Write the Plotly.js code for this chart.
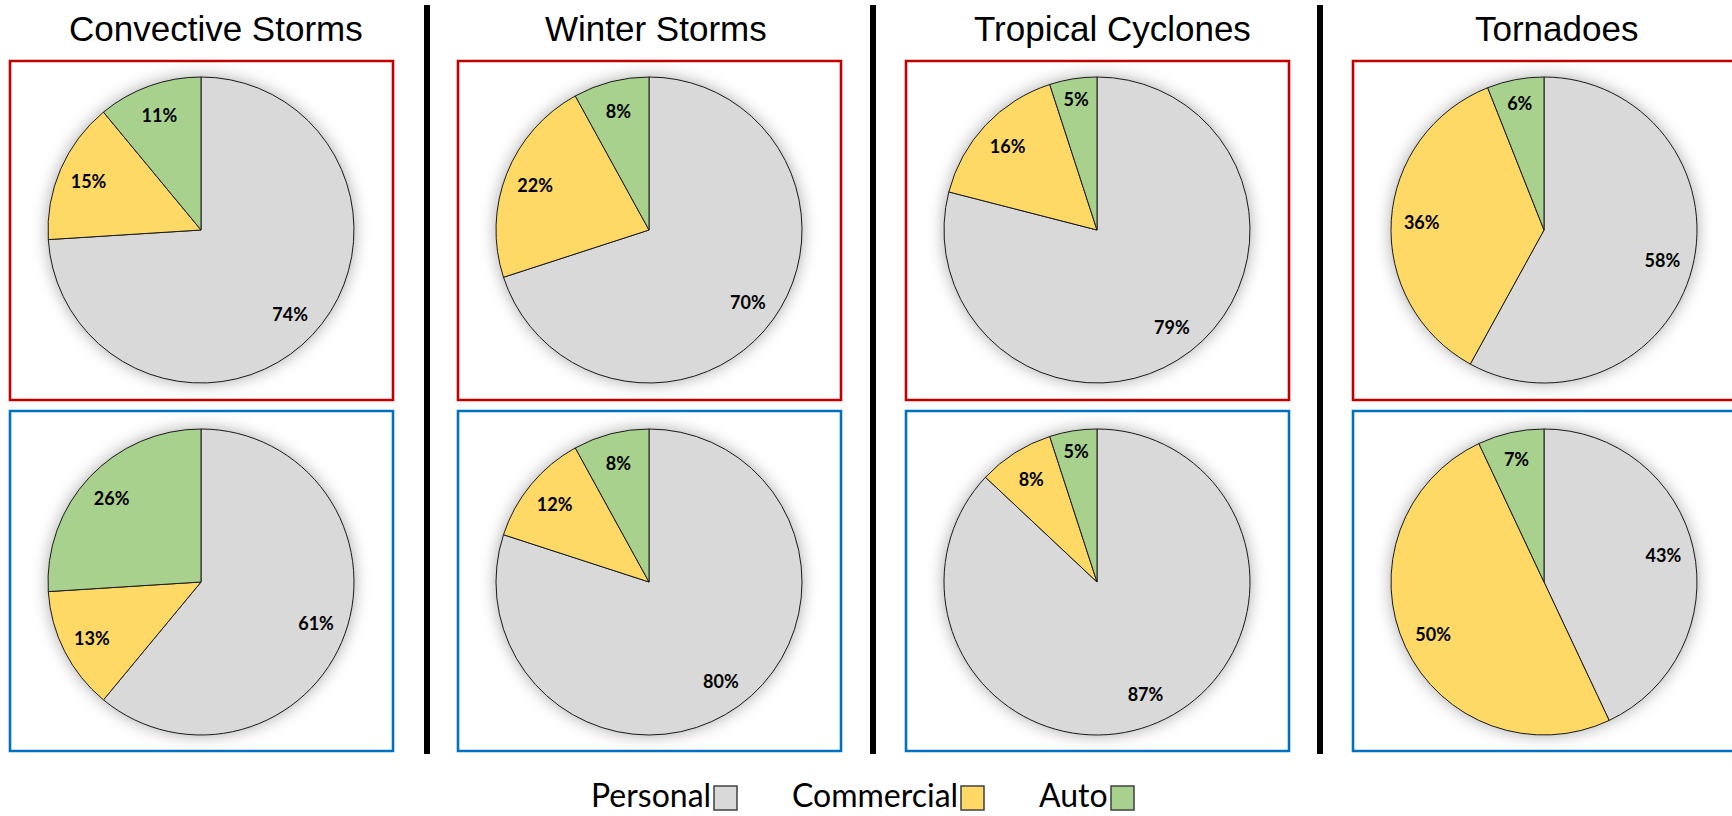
<!DOCTYPE html>
<html>
<head>
<meta charset="utf-8">
<script src="https://cdn.plot.ly/plotly-3.0.1.min.js"></script>
<style>
html,body{margin:0;padding:0;background:#fff;}
#chart{width:1732px;height:816px;}
</style>
</head>
<body>
<div id="chart"></div>
<script>
// ---------------- data ----------------
const hazards = ['Convective Storms', 'Winter Storms', 'Tropical Cyclones', 'Tornadoes'];
const lineNames = ['Personal', 'Commercial', 'Auto'];
// top row (red frames)
const topPersonal   = [74, 70, 79, 58];
const topCommercial = [15, 22, 16, 36];
const topAuto       = [11,  8,  5,  6];
// bottom row (blue frames)
const bottomPersonal   = [61, 80, 87, 43];
const bottomCommercial = [13, 12,  8, 50];
const bottomAuto       = [26,  8,  5,  7];

// ---------------- styling / geometry ----------------
const W = 1732, H = 816;
const sliceColors = ['#D9D9D9', '#FFD966', '#A9D18E'];
const frameColors = ['#C00000', '#0070C0'];
const colCx = [201, 649, 1097, 1544];
const titleCx = [216, 656, 1112, 1556];
const rowCy = [230, 582];
const R = 153;
const frameTop = [61, 411], frameBottom = [400, 751];
const dividerX = [427, 873, 1320];

const fx = p => p / W;
const fy = p => 1 - p / H;

const rows = [
  [topPersonal, topCommercial, topAuto],
  [bottomPersonal, bottomCommercial, bottomAuto]
];

const baseTraces = [], labelTraces = [];
rows.forEach((series, r) => {
  hazards.forEach((hz, c) => {
    const vals = series.map(s => s[c]);
    const domain = {
      x: [fx(colCx[c] - R), fx(colCx[c] + R)],
      y: [fy(rowCy[r] + R), fy(rowCy[r] - R)]
    };
    baseTraces.push({
      type: 'pie', labels: lineNames, values: vals, domain: domain,
      sort: false, direction: 'clockwise', rotation: 0,
      marker: {colors: sliceColors, line: {color: '#1a1a1a', width: 1}},
      textinfo: 'none', hoverinfo: 'label+value', showlegend: false
    });
    labelTraces.push({
      type: 'pie', labels: lineNames, values: vals, domain: domain,
      sort: false, direction: 'clockwise', rotation: 0, hole: 0.6,
      marker: {colors: ['rgba(0,0,0,0)', 'rgba(0,0,0,0)', 'rgba(0,0,0,0)'], line: {width: 0}},
      texttemplate: '%{value}%', textposition: 'inside', insidetextorientation: 'horizontal',
      insidetextfont: {family: 'Lato, sans-serif', size: 18, color: '#000', weight: 700},
      hoverinfo: 'skip', showlegend: false
    });
  });
});

const shapes = [];
const annotations = [];
// frames
for (let r = 0; r < 2; r++) {
  for (let c = 0; c < 4; c++) {
    shapes.push({
      type: 'rect', xref: 'paper', yref: 'paper',
      x0: fx(colCx[c] - 191), x1: fx(colCx[c] + 192),
      y0: fy(frameBottom[r]), y1: fy(frameTop[r]),
      line: {color: frameColors[r], width: 2.6}, fillcolor: 'rgba(0,0,0,0)', layer: 'below'
    });
  }
}
// dividers
dividerX.forEach(x => {
  shapes.push({type: 'line', xref: 'paper', yref: 'paper', x0: fx(x), x1: fx(x), y0: fy(754), y1: fy(5),
    line: {color: '#000', width: 6}});
});
// titles
hazards.forEach((hz, c) => {
  annotations.push({
    text: hz, xref: 'paper', yref: 'paper', x: fx(titleCx[c]), y: fy(29),
    xanchor: 'center', yanchor: 'middle', showarrow: false,
    font: {family: 'Liberation Sans, Arial, sans-serif', size: 35, color: '#000'}
  });
});
// legend (text then swatch)
const legendBoxX = [714, 961, 1111];
lineNames.forEach((nm, i) => {
  annotations.push({
    text: nm, xref: 'paper', yref: 'paper', x: fx(legendBoxX[i] - 1), y: fy(794),
    xanchor: 'right', yanchor: 'middle', showarrow: false, height: 36,
    font: {family: 'Lato, sans-serif', size: 32, color: '#000'}
  });
  shapes.push({
    type: 'rect', xref: 'paper', yref: 'paper',
    x0: fx(legendBoxX[i]), x1: fx(legendBoxX[i] + 23), y0: fy(810), y1: fy(786),
    line: {color: '#404040', width: 1.5}, fillcolor: sliceColors[i]
  });
});

const layout = {
  width: W, height: H,
  margin: {l: 0, r: 0, t: 0, b: 0},
  paper_bgcolor: '#fff', plot_bgcolor: '#fff',
  showlegend: false,
  shapes: shapes, annotations: annotations
};

function addGlow(gd) {
  const ns = 'http://www.w3.org/2000/svg';
  const svg = gd.querySelector('svg.main-svg');
  let defs = svg.querySelector('defs');
  if (!defs) { defs = document.createElementNS(ns, 'defs'); svg.insertBefore(defs, svg.firstChild); }
  const f = document.createElementNS(ns, 'filter');
  f.setAttribute('id', 'pieGlow');
  f.setAttribute('filterUnits', 'userSpaceOnUse');
  f.setAttribute('x', '0'); f.setAttribute('y', '0');
  f.setAttribute('width', String(W)); f.setAttribute('height', String(H));
  const blur = document.createElementNS(ns, 'feGaussianBlur');
  blur.setAttribute('in', 'SourceAlpha'); blur.setAttribute('stdDeviation', '8'); blur.setAttribute('result', 'b');
  const flood = document.createElementNS(ns, 'feFlood');
  flood.setAttribute('flood-color', '#000000'); flood.setAttribute('flood-opacity', '0.33'); flood.setAttribute('result', 'c');
  const comp = document.createElementNS(ns, 'feComposite');
  comp.setAttribute('in', 'c'); comp.setAttribute('in2', 'b'); comp.setAttribute('operator', 'in'); comp.setAttribute('result', 's');
  const merge = document.createElementNS(ns, 'feMerge');
  const m1 = document.createElementNS(ns, 'feMergeNode'); m1.setAttribute('in', 's');
  const m2 = document.createElementNS(ns, 'feMergeNode'); m2.setAttribute('in', 'SourceGraphic');
  merge.appendChild(m1); merge.appendChild(m2);
  f.appendChild(blur); f.appendChild(flood); f.appendChild(comp); f.appendChild(merge);
  defs.appendChild(f);
  const groups = gd.querySelectorAll('.pielayer g.trace');
  for (let i = 0; i < baseTraces.length && i < groups.length; i++) {
    groups[i].setAttribute('filter', 'url(#pieGlow)');
  }
}

Plotly.newPlot('chart', baseTraces.concat(labelTraces), layout, {displayModeBar: false, responsive: false});
addGlow(document.getElementById('chart'));
</script>
</body>
</html>
